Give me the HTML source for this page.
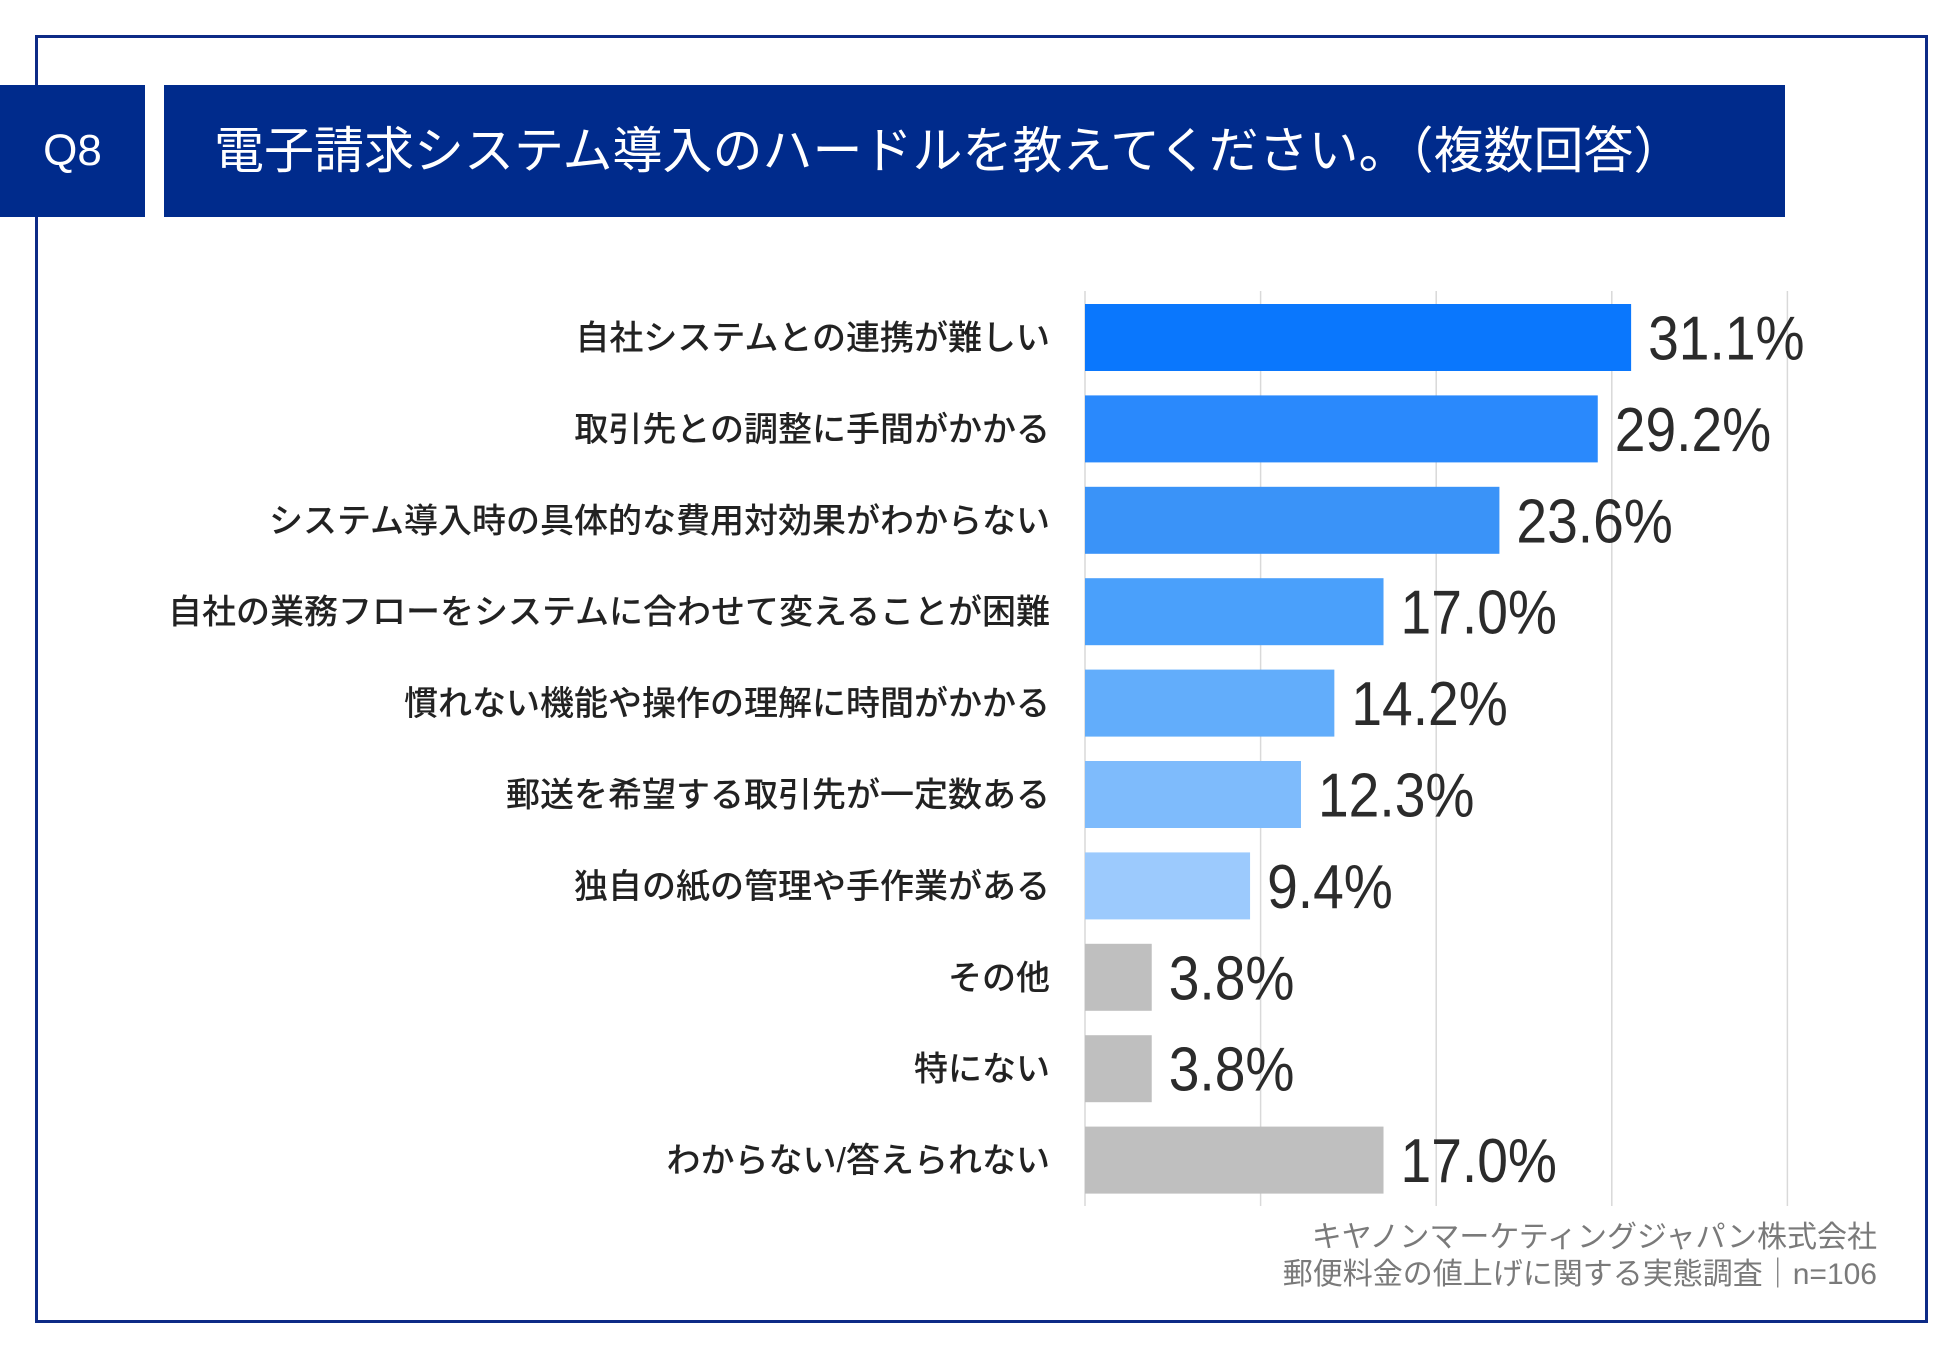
<!DOCTYPE html>
<html><head><meta charset="utf-8">
<style>
body{margin:0;width:1950px;height:1350px;background:#fff;position:relative;overflow:hidden;font-family:"Liberation Sans","Noto Sans CJK JP",sans-serif;}
#frame{position:absolute;left:35px;top:35px;width:1887px;height:1282px;border:3px solid #0d2a86;}
#q8{position:absolute;left:0;top:85px;width:145px;height:132px;background:#002b8c;color:#fff;font-size:44px;line-height:132px;text-align:center;}
#title{position:absolute;left:164px;top:85px;width:1621px;height:132px;background:#002b8c;color:#fff;font-size:50px;line-height:132px;padding-left:50px;box-sizing:border-box;white-space:nowrap;}
svg{position:absolute;left:0;top:0;}
.foot{position:absolute;right:73px;color:#7a7a7a;font-size:30px;white-space:nowrap;}
</style></head><body>
<div id="frame"></div>
<div id="q8">Q8</div>
<div id="title">電子請求システム導入のハードルを教えてください。（複数回答）</div>
<svg id="chart" width="1950" height="1350"></svg>
<div class="foot" style="top:1212px">キヤノンマーケティングジャパン株式会社</div>
<div class="foot" style="top:1249px">郵便料金の値上げに関する実態調査｜n=106</div>
<script>
const categories=["自社システムとの連携が難しい","取引先との調整に手間がかかる","システム導入時の具体的な費用対効果がわからない","自社の業務フローをシステムに合わせて変えることが困難","慣れない機能や操作の理解に時間がかかる","郵送を希望する取引先が一定数ある","独自の紙の管理や手作業がある","その他","特にない","わからない/答えられない"];
const values=[31.1,29.2,23.6,17.0,14.2,12.3,9.4,3.8,3.8,17.0];
const gridTicks=[0,10,20,30,40];
const colors=["#0a77fd","#2a89fc","#3a93f8","#4aa0fb","#62adfb","#7ebbfc","#9ccafd","#bfbfbf","#bfbfbf","#bfbfbf"];
const NS="http://www.w3.org/2000/svg";
const svg=document.getElementById('chart');
const x0=1085,pxPer=17.56,rowTop=304,rowStep=91.4,barH=67;
const xs=v=>x0+v*pxPer;
const ys=i=>rowTop+i*rowStep;
function mk(t,a){const e=document.createElementNS(NS,t);for(const k in a)e.setAttribute(k,a[k]);svg.appendChild(e);return e;}
gridTicks.forEach(t=>{
  const l=mk('line',{x1:xs(t),x2:xs(t),y1:291,y2:1206,stroke:'#d9d9d9','stroke-width':1.5});
  
  
});
categories.forEach((c,i)=>{
  const y=ys(i);
  const r=mk('rect',{x:x0,y:y,width:values[i]*pxPer,height:barH,fill:colors[i]});
  
  
  const lb=mk('text',{x:1050,y:y+barH/2+12,'text-anchor':'end','font-size':34,'font-weight':500,fill:'#222'});
  lb.textContent=c;
  
  
  const vl=mk('text',{x:xs(values[i])+17,y:y+barH/2+22,'font-size':62,fill:'#2b2b2b'});
  vl.textContent=values[i].toFixed(1)+'%';
  
  
  const w=vl.getComputedTextLength();
  if(w>0){vl.setAttribute('textLength',w*0.89);vl.setAttribute('lengthAdjust','spacingAndGlyphs');}
});
</script>
</body></html>
